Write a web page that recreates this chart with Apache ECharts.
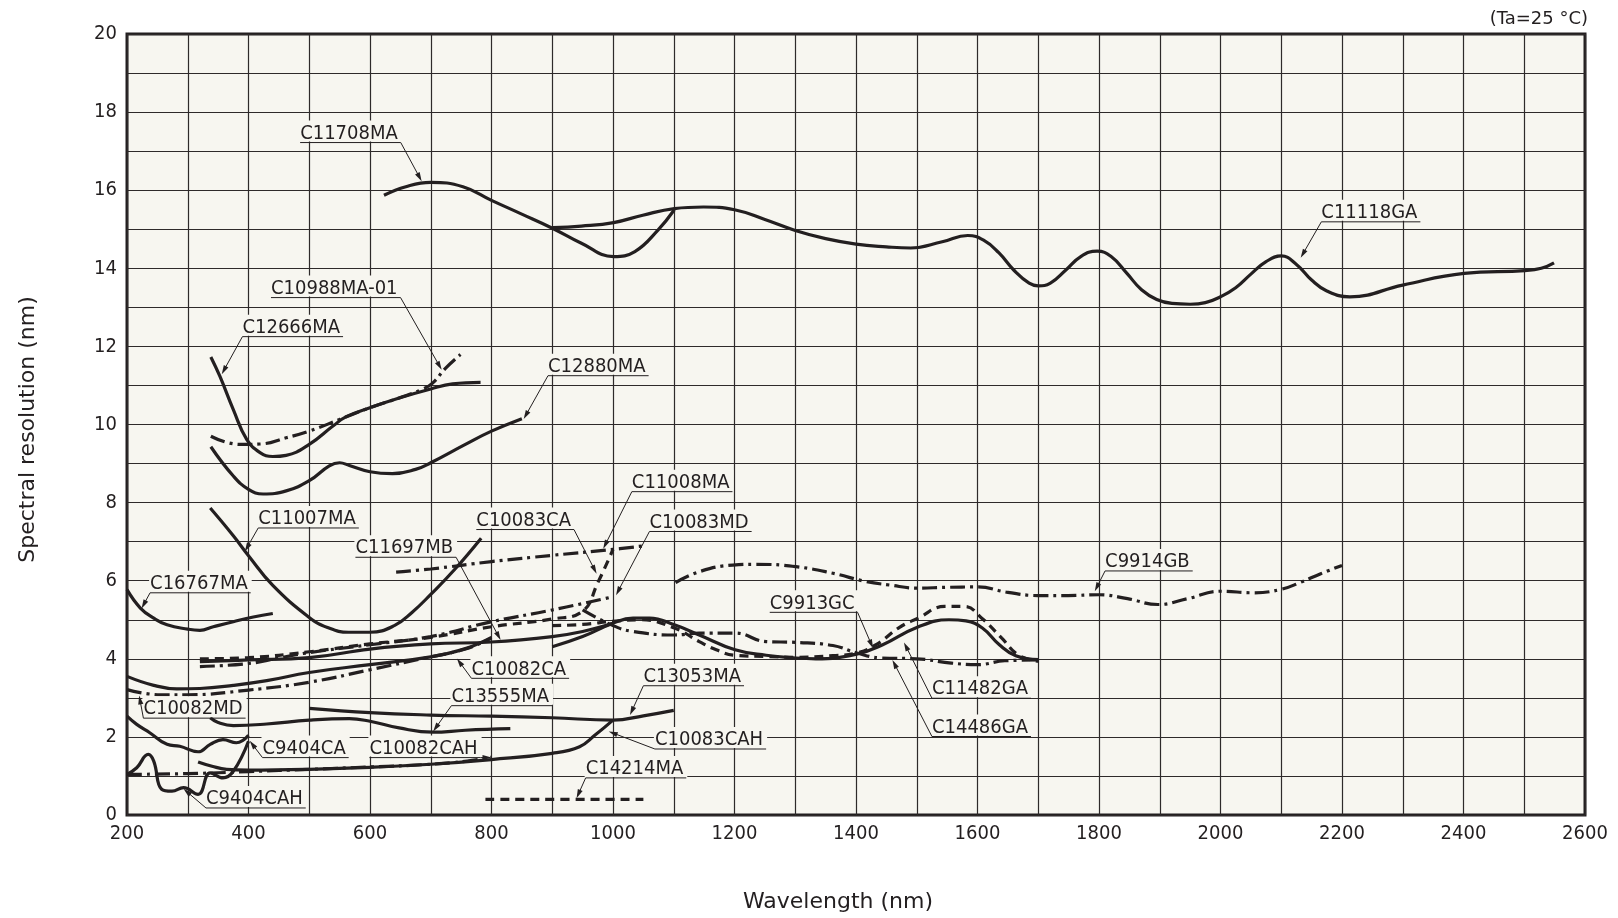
<!DOCTYPE html>
<html><head><meta charset="utf-8">
<script src="https://cdn.jsdelivr.net/npm/echarts@6/dist/echarts.min.js"></script>
<style>html,body{margin:0;padding:0;background:#fff}#c{width:1618px;height:918px}</style>
</head><body><div id="c"></div>
<script>
// ---- tick labels ----
const wavelengthTicks = [200,400,600,800,1000,1200,1400,1600,1800,2000,2200,2400,2600];
const resolutionTicks = [0,2,4,6,8,10,12,14,16,18,20];

// ---- series data: [wavelength nm, spectral resolution nm] ----
const c11708ma = [[623,15.87],[659,16.09],[700,16.2],[753,16.09],[800,15.74],[848,15.4],[901,15.02],[948,14.64],[1001,14.3],[1036,14.43],[1074,14.98],[1101,15.5]];
const c11118ga = [[901,15.04],[948,15.08],[1001,15.17],[1049,15.36],[1101,15.53],[1149,15.57],[1200,15.5],[1250,15.25],[1300,14.97],[1350,14.76],[1400,14.62],[1450,14.55],[1490,14.52],[1542,14.68],[1584,14.84],[1610,14.72],[1635,14.4],[1660,13.95],[1685,13.62],[1700,13.55],[1720,13.62],[1745,13.95],[1770,14.3],[1797,14.44],[1820,14.3],[1846,13.87],[1870,13.45],[1895,13.2],[1920,13.1],[1950,13.08],[1975,13.12],[2000,13.27],[2025,13.5],[2050,13.85],[2075,14.17],[2100,14.32],[2125,14.1],[2150,13.7],[2175,13.42],[2213,13.27],[2300,13.57],[2401,13.87],[2501,13.94],[2528,14.0],[2549,14.14]];
const c12666ma = [[338,11.73],[353,11.23],[375,10.38],[397,9.62],[419,9.28],[440,9.18],[462,9.21],[500,9.49],[539,9.96],[561,10.2],[600,10.43],[648,10.68],[700,10.91],[736,11.04],[782,11.08]];
const c10988ma01 = [[338,9.70],[386,9.49],[419,9.5],[462,9.66],[500,9.83],[550,10.13],[600,10.43],[648,10.68],[686,10.9],[703,11.06],[725,11.45],[749,11.79]];
const c12880ma = [[338,9.43],[375,8.68],[400,8.34],[424,8.22],[462,8.30],[500,8.56],[533,8.94],[550,9.02],[566,8.95],[600,8.79],[637,8.74],[675,8.85],[700,9.02],[757,9.49],[800,9.83],[850,10.15]];
const c11007ma = [[337,7.86],[375,7.15],[400,6.64],[440,5.88],[500,5.06],[530,4.8],[565,4.68],[600,4.68],[640,4.85],[670,5.2],[700,5.65],[740,6.3],[783,7.09]];
const c16767ma = [[200,5.77],[222,5.3],[244,5.04],[266,4.87],[300,4.76],[320,4.73],[342,4.82],[375,4.95],[408,5.07],[440,5.16]];
const c11008ma = [[643,6.22],[700,6.3],[800,6.49],[900,6.65],[1000,6.8],[1054,6.9]];
const c10083ca = [[320,4.0],[400,4.03],[500,4.18],[600,4.38],[700,4.55],[800,4.82],[900,5.02],[950,5.22],[975,5.95],[1000,6.8]];
const c10083md = [[320,3.8],[400,3.88],[450,4.02],[500,4.16],[600,4.36],[700,4.57],[800,4.95],[900,5.25],[1000,5.59]];
const c11697mb = [[320,3.93],[400,3.97],[500,4.03],[600,4.25],[700,4.38],[800,4.43],[900,4.57],[950,4.7],[1000,4.91]];
const c10082ca = [[200,3.55],[244,3.32],[282,3.23],[320,3.24],[375,3.32],[430,3.44],[500,3.65],[600,3.85],[700,4.05],[757,4.26],[800,4.55]];
const c10082md = [[200,3.21],[255,3.08],[300,3.08],[400,3.2],[500,3.4],[600,3.72],[700,4.05],[757,4.25],[800,4.53]];
const c13555ma = [[337,2.49],[350,2.37],[375,2.29],[430,2.33],[500,2.43],[566,2.47],[600,2.40],[648,2.23],[703,2.12],[757,2.17],[831,2.21]];
const c13053ma = [[500,2.73],[600,2.62],[700,2.56],[800,2.53],[900,2.49],[1000,2.43],[1050,2.54],[1100,2.68]];
const c10082cah = [[200,1.04],[300,1.06],[400,1.11],[500,1.17],[600,1.23],[700,1.3],[760,1.38],[800,1.48]];
const c10083cah = [[317,1.36],[340,1.25],[364,1.17],[400,1.15],[500,1.17],[600,1.22],[700,1.3],[800,1.42],[900,1.58],[945,1.75],[970,2.04],[1000,2.43]];
const c9404ca = [[200,2.53],[216,2.32],[238,2.1],[266,1.81],[287,1.76],[317,1.62],[337,1.81],[358,1.93],[380,1.85],[400,2.04]];
const c9404cah = [[200,1.04],[216,1.21],[235,1.55],[244,1.38],[257,0.66],[274,0.61],[293,0.70],[317,0.53],[337,1.08],[358,0.95],[375,1.12],[400,1.89]];
const c14214ma = [[790,0.4],[1050,0.4]];
const c9914gb = [[1103,5.95],[1142,6.23],[1197,6.4],[1236,6.42],[1301,6.36],[1362,6.19],[1416,5.98],[1455,5.89],[1501,5.81],[1548,5.83],[1600,5.84],[1650,5.7],[1700,5.62],[1749,5.62],[1800,5.64],[1847,5.54],[1897,5.39],[1946,5.54],[2000,5.73],[2055,5.69],[2100,5.78],[2132,5.96],[2165,6.18],[2200,6.39]];
const c11482ga = [[900,4.31],[950,4.57],[1000,4.91],[1033,5.04],[1060,5.04],[1101,4.87],[1142,4.61],[1201,4.23],[1252,4.09],[1301,4.02],[1334,4.0],[1401,4.12],[1444,4.36],[1501,4.81],[1553,5.0],[1581,4.97],[1608,4.79],[1636,4.36],[1663,4.08],[1701,3.98]];
const c9913gc = [[900,4.85],[950,4.88],[1000,4.96],[1044,5.0],[1101,4.79],[1142,4.44],[1170,4.23],[1201,4.09],[1252,4.06],[1301,4.04],[1362,4.08],[1401,4.15],[1433,4.36],[1471,4.8],[1502,5.04],[1546,5.34],[1579,5.34],[1607,5.04],[1640,4.53],[1667,4.1],[1701,3.93]];
const c14486ga = [[950,5.25],[1000,4.85],[1033,4.7],[1101,4.61],[1142,4.66],[1201,4.66],[1252,4.44],[1301,4.42],[1362,4.34],[1401,4.15],[1442,4.02],[1500,4.0],[1557,3.89],[1600,3.85],[1645,3.95],[1700,3.97]];

// ---- series list: name, data, line pattern ----
const seriesList = [
  ['C11708MA', c11708ma, 'solid'], ['C11118GA', c11118ga, 'solid'],
  ['C12666MA', c12666ma, 'solid'], ['C10988MA-01', c10988ma01, 'dashdot'],
  ['C12880MA', c12880ma, 'solid'], ['C11007MA', c11007ma, 'solid'],
  ['C16767MA', c16767ma, 'solid'], ['C11008MA', c11008ma, 'dashdot'],
  ['C10083CA', c10083ca, 'dashed'], ['C10083MD', c10083md, 'dashdot'],
  ['C11697MB', c11697mb, 'solid'], ['C10082CA', c10082ca, 'solid'],
  ['C10082MD', c10082md, 'dashdot'], ['C13555MA', c13555ma, 'solid'],
  ['C13053MA', c13053ma, 'solid'], ['C10082CAH', c10082cah, 'dashdot'],
  ['C10083CAH', c10083cah, 'solid'], ['C9404CA', c9404ca, 'solid'],
  ['C9404CAH', c9404cah, 'solid'], ['C14214MA', c14214ma, 'dashed'],
  ['C9914GB', c9914gb, 'dashdot'], ['C11482GA', c11482ga, 'solid'],
  ['C9913GC', c9913gc, 'dashed'], ['C14486GA', c14486ga, 'dashdot']
];

// ---- callout labels: underline start [wavelength, resolution], arrow tip, leader side ----
const callouts = [
  ['C11708MA', [485,17.22], [685,16.23], 'right'],
  ['C10988MA-01', [437,13.25], [718,11.40], 'right'],
  ['C12666MA', [390,12.25], [356,11.29], 'left'],
  ['C12880MA', [893,11.25], [853,10.14], 'left'],
  ['C11007MA', [416,7.35], [394,6.75], 'left'],
  ['C16767MA', [238,5.69], [224,5.29], 'left'],
  ['C11697MB', [576,6.6], [815,4.48], 'right'],
  ['C10083CA', [775,7.31], [973,6.18], 'right'],
  ['C11008MA', [1031,8.28], [984,6.82], 'left'],
  ['C10083MD', [1060,7.26], [1005,5.63], 'left'],
  ['C10082CA', [767,3.5], [743,4.01], 'left'],
  ['C10082MD', [227,2.48], [220,3.06], 'left'],
  ['C13555MA', [734,2.80], [704,2.14], 'left'],
  ['C9404CA', [423,1.47], [402,1.90], 'left'],
  ['C10082CAH', [599,1.47], [800,1.47], 'right'],
  ['C9404CAH', [330,0.18], [293,0.67], 'left'],
  ['C13053MA', [1050,3.31], [1028,2.56], 'left'],
  ['C10083CAH', [1069,1.69], [993,2.14], 'left'],
  ['C14214MA', [955,0.95], [940,0.43], 'left'],
  ['C9913GC', [1258,5.19], [1428,4.27], 'right'],
  ['C11482GA', [1525,2.99], [1479,4.42], 'left'],
  ['C14486GA', [1525,2.01], [1460,3.97], 'left'],
  ['C9914GB', [1810,6.25], [1793,5.73], 'left'],
  ['C11118GA', [2166,15.19], [2132,14.27], 'left']
];

const INK = '#231f20';
const FONT = "'DejaVu Sans Condensed', 'DejaVu Sans', sans-serif";
const WIDE = "'DejaVu Sans', sans-serif";
const FS = 20;
const dashes = { solid: 'solid', dashed: [9, 6], dashdot: [15, 5, 3, 5] };

const chart = echarts.init(document.getElementById('c'), null, { renderer: 'canvas' });
const option = {
  animation: false,
  backgroundColor: '#ffffff',
  textStyle: { fontFamily: FONT, color: INK },
  title: {
    text: '(Ta=25 °C)', right: 25, top: 5,
    textStyle: { fontFamily: WIDE, fontSize: 18, fontWeight: 'normal', color: INK }
  },
  grid: {
    left: 127, top: 34, width: 1458, height: 783,
    show: true, backgroundColor: '#f7f6f0', borderColor: INK, borderWidth: 3
  },
  xAxis: {
    type: 'value', min: 200, max: 2600, interval: 100,
    name: 'Wavelength (nm)', nameLocation: 'middle', nameGap: 76,
    nameTextStyle: { fontFamily: WIDE, fontSize: 22, color: INK, padding: [0, 36, 0, 0] },
    axisLine: { show: false }, axisTick: { show: false },
    axisLabel: {
      margin: 9, fontFamily: FONT, fontSize: FS, color: INK,
      formatter: v => wavelengthTicks.includes(v) ? String(v) : ''
    },
    splitLine: { show: true, lineStyle: { color: '#2e2a2a', width: 1.2 } }
  },
  yAxis: {
    type: 'value', min: 0, max: 20, interval: 1,
    name: 'Spectral resolution (nm)', nameLocation: 'middle', nameGap: 88, nameRotate: 90,
    nameTextStyle: { fontFamily: WIDE, fontSize: 22, color: INK, padding: [0, 10, 0, 0] },
    axisLine: { show: false }, axisTick: { show: false },
    axisLabel: {
      margin: 10, fontFamily: FONT, fontSize: FS, color: INK,
      formatter: v => resolutionTicks.includes(v) ? String(v) : ''
    },
    splitLine: { show: true, lineStyle: { color: '#2e2a2a', width: 1.2 } }
  },
  series: seriesList.map(([name, data, pat]) => ({
    name, type: 'line', data, smooth: 0.45, showSymbol: false, silent: true,
    lineStyle: { color: INK, width: 3.2, type: dashes[pat], cap: 'butt' },
    z: 3
  }))
};
chart.setOption(option);

// ---- callouts drawn from data coordinates ----
const meas = document.createElement('canvas').getContext('2d');
meas.font = FS + 'px ' + FONT;
const graphics = [];
callouts.forEach(([text, at, tip, side]) => {
  const p = chart.convertToPixel({ xAxisIndex: 0, yAxisIndex: 0 }, at);
  const t = chart.convertToPixel({ xAxisIndex: 0, yAxisIndex: 0 }, tip);
  const w = meas.measureText(text).width;
  const x0 = p[0], x1 = p[0] + w + 3, uy = p[1];
  graphics.push({ type: 'rect', shape: { x: x0 - 1, y: uy - 22, width: w + 5, height: 21 }, style: { fill: '#f7f6f0' }, z: 50 });
  graphics.push({ type: 'text', x: x0, y: uy + 1, z: 60,
    style: { text, font: FS + 'px ' + FONT, fill: INK, textAlign: 'left', textVerticalAlign: 'bottom' } });
  graphics.push({ type: 'line', shape: { x1: x0, y1: uy, x2: x1, y2: uy }, style: { stroke: INK, lineWidth: 1 }, z: 60 });
  const s = side === 'left' ? [x0, uy] : [x1, uy];
  const dx = t[0] - s[0], dy = t[1] - s[1], L = Math.hypot(dx, dy) || 1;
  const ux = dx / L, uyy = dy / L, al = 9, hw = 2.6;
  const bx = t[0] - ux * al, by = t[1] - uyy * al;
  graphics.push({ type: 'line', shape: { x1: s[0], y1: s[1], x2: bx + ux * 2, y2: by + uyy * 2 }, style: { stroke: INK, lineWidth: 1 }, z: 60 });
  graphics.push({ type: 'polygon', z: 60, shape: { points: [[t[0], t[1]], [bx - uyy * hw, by + ux * hw], [bx + uyy * hw, by - ux * hw]] }, style: { fill: INK } });
});
chart.setOption({ graphic: graphics });
</script></body></html>
